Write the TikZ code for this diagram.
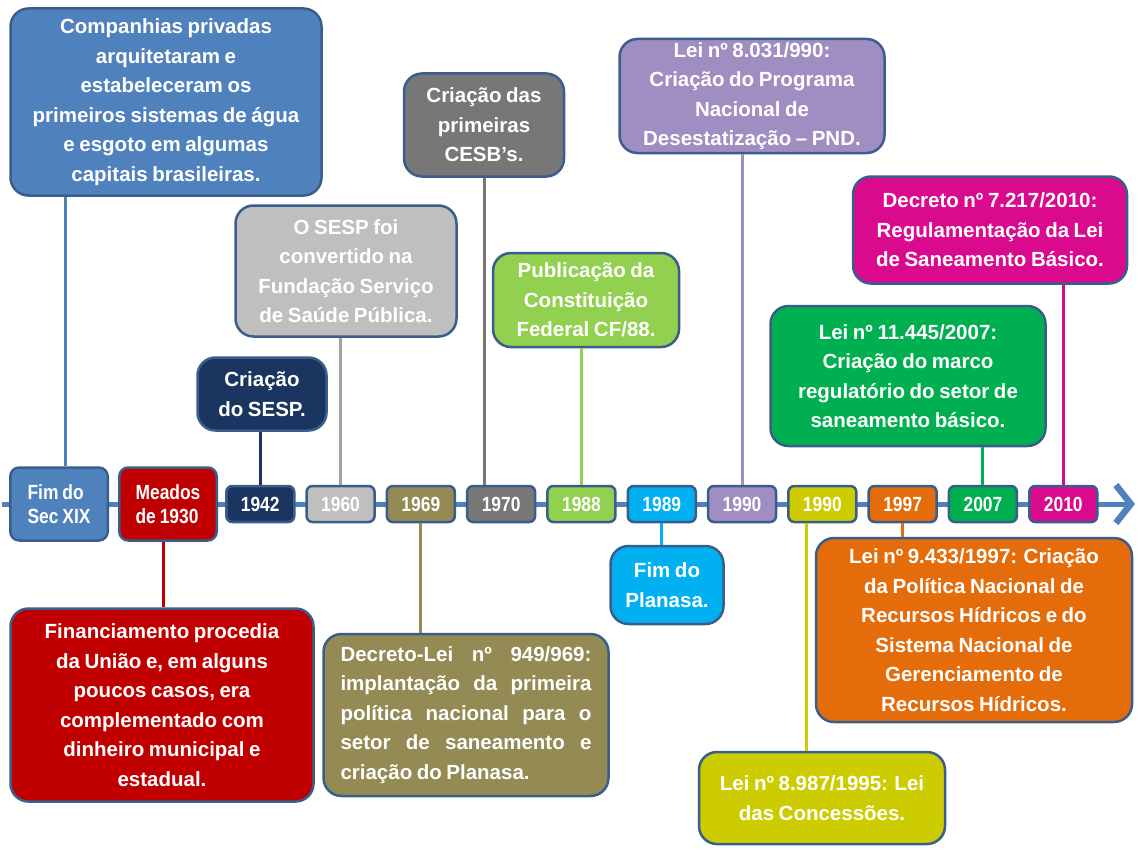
\documentclass[tikz,border=0pt]{standalone}
\usepackage{fontspec}
\setmainfont[WordSpace=0.8]{Liberation Sans}
\usepackage{xcolor}
\usetikzlibrary{arrows.meta, positioning}

\definecolor{rim}{HTML}{3A5E8C}
\definecolor{cfim}{HTML}{4F81BD}
\definecolor{c1930}{HTML}{C00000}
\definecolor{c1942}{HTML}{1A3560}
\definecolor{c1960}{HTML}{BFBFBF}
\definecolor{c1969}{HTML}{948A54}
\definecolor{c1970}{HTML}{777777}
\definecolor{c1988}{HTML}{92D050}
\definecolor{c1989}{HTML}{00B0F0}
\definecolor{c1990a}{HTML}{A08EC2}
\definecolor{c1990b}{HTML}{CCCC00}
\definecolor{c1997}{HTML}{E46C0A}
\definecolor{c2007}{HTML}{00B050}
\definecolor{c2010}{HTML}{DA0A8E}

\begin{document}
\begin{tikzpicture}[x=1pt, y=-1pt,
      event/.style={draw=rim, line width=2.5pt, rounded corners=18pt,
                    text=white, align=center, inner sep=0pt,
                    font=\fontsize{20.5}{29.5}\selectfont\bfseries},
      year/.style={draw=rim, line width=2.5pt, rounded corners=6pt,
                   text=white, inner sep=0pt, minimum width=68pt, minimum height=36pt,
                   font=\fontsize{20.5}{24}\selectfont\bfseries\addfontfeature{FakeStretch=0.85}},
      era/.style={year, minimum width=97.5pt, minimum height=73pt,
                  rounded corners=9pt, align=left},
      link/.style={line width=3pt},
      axis/.style={line width=5pt, cfim,
                   -{Straight Barb[length=15pt,width=38pt,line width=6.5pt]}},
      node distance=9.8pt
    ]
    \useasboundingbox (0,0) rectangle (1139,848);
    \fill[white] (0,0) rectangle (1139,848);

    % Time axis
    \coordinate (tl0) at (2,504);
    \coordinate (tl1) at (1135,504);
    \draw[axis] (tl0) -- (tl1);

    % Years on the axis
    \node[era, fill=cfim] (fim) at (59,504) {Fim do\\Sec XIX};
    \node[era, fill=c1930, right=9pt of fim] (y1930) {Meados\\de 1930};
    \node[year, fill=c1942, right=7pt of y1930] (y1942) {1942};
    \node[year, fill=c1960, right=of y1942] (y1960) {1960};
    \node[year, fill=c1969, right=of y1960] (y1969) {1969};
    \node[year, fill=c1970, right=of y1969] (y1970) {1970};
    \node[year, fill=c1988, right=of y1970] (y1988) {1988};
    \node[year, fill=c1989, right=of y1988] (y1989) {1989};
    \node[year, fill=c1990a, right=of y1989] (y1990a) {1990};
    \node[year, fill=c1990b, right=of y1990a] (y1990b) {1990};
    \node[year, fill=c1997, right=of y1990b] (y1997) {1997};
    \node[year, fill=c2007, right=of y1997] (y2007) {2007};
    \node[year, fill=c2010, right=of y2007] (y2010) {2010};

    % Events above the axis
    \node[event, fill=cfim, minimum width=311pt, minimum height=187pt] (comp) at (166,102)
      {Companhias privadas\\arquitetaram e\\estabeleceram os\\primeiros sistemas de água\\e esgoto em algumas\\capitais brasileiras.};
    \node[event, fill=c1942, minimum width=129pt, minimum height=73pt] (sesp) at (262,394)
      {Criação\\do SESP.};
    \node[event, fill=c1960, minimum width=221pt, minimum height=131pt] (fsesp) at (346,271)
      {O SESP foi\\convertido na\\Fundação Serviço\\de Saúde Pública.};
    \node[event, fill=c1970, minimum width=160pt, minimum height=103pt] (cesb) at (484,125)
      {Criação das\\primeiras\\CESB’s.};
    \node[event, fill=c1988, minimum width=186pt, minimum height=94pt] (cf88) at (586,300)
      {Publicação da\\Constituição\\Federal CF/88.};
    \node[event, fill=c1990a, minimum width=265pt, minimum height=114pt] (pnd) at (752,96)
      {Lei nº 8.031/990:\\Criação do Programa\\Nacional de\\Desestatização – PND.};
    \node[event, fill=c2010, minimum width=274pt, minimum height=107pt] (dec2010) at (990,230)
      {Decreto nº 7.217/2010:\\Regulamentação da Lei\\de Saneamento Básico.};
    \node[event, fill=c2007, minimum width=275pt, minimum height=140pt] (marco) at (908,376)
      {Lei nº 11.445/2007:\\Criação do marco\\regulatório do setor de\\saneamento básico.};

    % Events below the axis
    \node[event, fill=c1930, minimum width=303pt, minimum height=193pt] (fin) at (162,705)
      {Financiamento procedia\\da União e, em alguns\\poucos casos, era\\complementado com\\dinheiro municipal e\\estadual.};
    \node[event, fill=c1969, minimum width=285pt, minimum height=162pt,
          text width=251pt, align=justify] (planasa) at (466,715)
      {Decreto-Lei nº 949/969:\linebreak implantação da primeira\linebreak política nacional para o\linebreak setor de saneamento e\linebreak criação do Planasa.};
    \node[event, fill=c1989, minimum width=113pt, minimum height=78pt] (fimpl) at (667,585)
      {Fim do\\Planasa.};
    \node[event, fill=c1997, minimum width=316pt, minimum height=184pt] (hidr) at (974,630)
      {Lei nº 9.433/1997: Criação\\da Política Nacional de\\Recursos Hídricos e do\\Sistema Nacional de\\Gerenciamento de\\Recursos Hídricos.};
    \node[event, fill=c1990b, minimum width=246pt, minimum height=92pt] (conc) at (822,798)
      {Lei nº 8.987/1995: Lei\\das Concessões.};

    % Connectors
    \draw[link, cfim] ([xshift=6pt]fim.north) -- ([xshift=6pt]fim.north |- comp.south);
    \draw[link, c1942] (y1942.north) -- (y1942.north |- sesp.south);
    \draw[link, c1960!85!black] (y1960.north) -- (y1960.north |- fsesp.south);
    \draw[link, c1970] (cesb.south) -- (cesb.south |- y1970.north);
    \draw[link, c1988] (y1988.north) -- (y1988.north |- cf88.south);
    \draw[link, c1990a] (y1990a.north) -- (y1990a.north |- pnd.south);
    \draw[link, c2007] (y2007.north) -- (y2007.north |- marco.south);
    \draw[link, c2010] (y2010.north) -- (y2010.north |- dec2010.south);
    \draw[link, c1930] ([xshift=-5pt]y1930.south) -- ([xshift=-5pt]y1930.south |- fin.north);
    \draw[link, c1969] (y1969.south) -- (y1969.south |- planasa.north);
    \draw[link, c1989] (y1989.south) -- (y1989.south |- fimpl.north);
    \draw[link, c1990b] ([xshift=-16pt]y1990b.south) -- ([xshift=-16pt]y1990b.south |- conc.north);
    \draw[link, c1997] (y1997.south) -- (y1997.south |- hidr.north);

  \end{tikzpicture}
\end{document}
